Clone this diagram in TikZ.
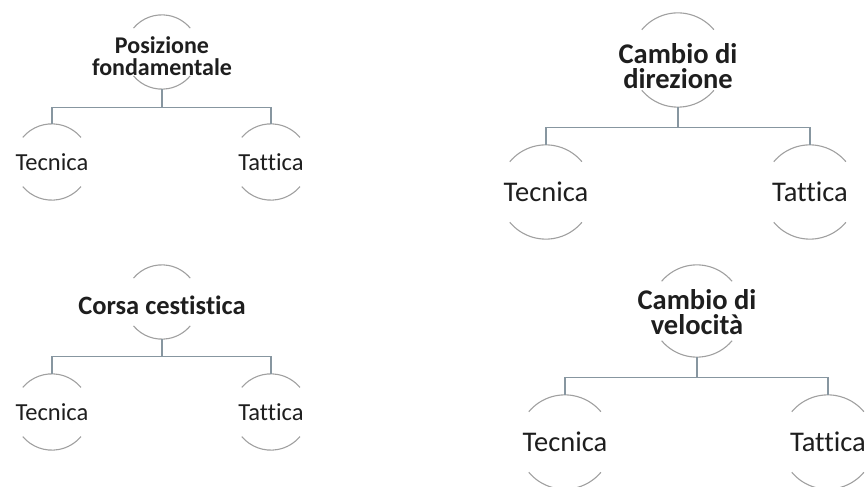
\documentclass[tikz,border=0pt]{standalone}
\usepackage{fontspec}
\setmainfont[Ligatures=NoCommon]{Carlito}
\usetikzlibrary{calc}

\definecolor{arcgrey}{RGB}{160,160,160}
\definecolor{linkgrey}{RGB}{135,150,160}
\definecolor{txtgrey}{RGB}{30,30,30}

\tikzset{
  bub/.style={circle, minimum size=#1, inner sep=0pt},
  lbl/.style={font=\fontsize{24.5}{23}\selectfont, align=center, text=txtgrey},
  lblbig/.style={font=\fontsize{28.5}{25}\selectfont, align=center, text=txtgrey},
  arcline/.style={draw=arcgrey, line width=1.1pt},
  link/.style={draw=linkgrey, line width=1.1pt}
}

\begin{document}
\begin{tikzpicture}[x=1pt,y=1pt]
			\useasboundingbox (0,0) rectangle (867,487);
			
			% Posizione fondamentale
			\node[bub=74pt] (p1) at (162,435) {};
			\node[lbl, font=\fontsize{24}{22.5}\selectfont\bfseries] (t1) at ($(p1)+(0,-4)$) {Posizione\\fondamentale};
			\node[bub=76pt] (c1) at (52,325) {};
			\node[lbl] (t2) at (c1) {Tecnica};
			\node[bub=76pt] (c2) at (271,325) {};
			\node[lbl] (t3) at (c2) {Tattica};
			
			% Cambio di direzione
			\node[bub=94pt] (p2) at (678,427) {};
			\node[lblbig, font=\fontsize{28.5}{25}\selectfont\bfseries] (t4) at ($(p2)+(0,-6)$) {Cambio di\\direzione};
			\node[bub=94pt] (c3) at (546,295) {};
			\node[lblbig] (t5) at (c3) {Tecnica};
			\node[bub=94pt] (c4) at (810,295) {};
			\node[lblbig] (t6) at (c4) {Tattica};
			
			% Corsa cestistica
			\node[bub=74pt] (p3) at (162,185) {};
			\node[lbl, font=\fontsize{26.5}{22}\selectfont\bfseries] (t7) at ($(p3)+(0,-3)$) {Corsa cestistica};
			\node[bub=76pt] (c5) at (52,75) {};
			\node[lbl] (t8) at (c5) {Tecnica};
			\node[bub=76pt] (c6) at (271,75) {};
			\node[lbl] (t9) at (c6) {Tattica};
			
			% Cambio di velocita
			\node[bub=92pt] (p4) at (697,176) {};
			\node[lblbig, font=\fontsize{28.5}{25}\selectfont\bfseries] (t10) at ($(p4)+(0,-1)$) {Cambio di\\velocità};
			\node[bub=94pt] (c7) at (565,45) {};
			\node[lblbig] (t11) at (c7) {Tecnica};
			\node[bub=94pt] (c8) at (828,45) {};
			\node[lblbig] (t12) at (c8) {Tattica};
			
			% arcs
			\foreach \n/\r in {p1/37,c1/38,c2/38,p2/47,c3/47,c4/47,p3/37,c5/38,c6/38,p4/46,c7/47,c8/47}{
				\draw[arcline] (\n.140) arc[start angle=140, end angle=40, radius=\r pt];
				\draw[arcline] (\n.220) arc[start angle=220, end angle=320, radius=\r pt];
			}
			
			% links
			\coordinate (b1) at ($(p1.south)+(0,-18)$);
			\draw[link] (p1.south) -- (b1) -| (c1.north);
			\draw[link] (b1) -| (c2.north);
			\coordinate (b2) at ($(p2.south)+(0,-20)$);
			\draw[link] (p2.south) -- (b2) -| (c3.north);
			\draw[link] (b2) -| (c4.north);
			\coordinate (b3) at ($(p3.south)+(0,-17)$);
			\draw[link] (p3.south) -- (b3) -| (c5.north);
			\draw[link] (b3) -| (c6.north);
			\coordinate (b4) at ($(p4.south)+(0,-20)$);
			\draw[link] (p4.south) -- (b4) -| (c7.north);
			\draw[link] (b4) -| (c8.north);
\end{tikzpicture}
\end{document}
